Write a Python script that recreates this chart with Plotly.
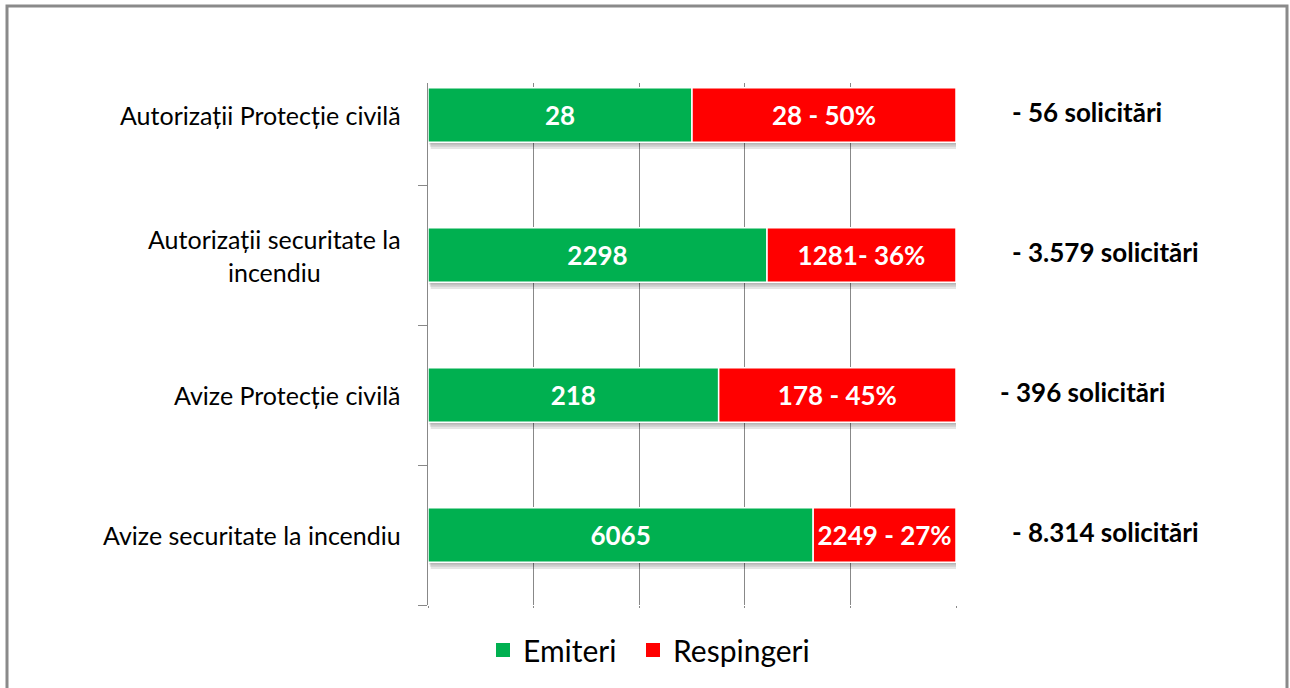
import plotly.graph_objects as go

categories = [
    "Autorizații Protecție civilă",
    "Autorizații securitate la<br>incendiu",
    "Avize Protecție civilă",
    "Avize securitate la incendiu",
]
emiteri = [28, 2298, 218, 6065]
respingeri = [28, 1281, 178, 2249]
red_labels = ["28 - 50%", "1281- 36%", "178 - 45%", "2249 - 27%"]
total_labels = ["- 56 solicitări", "- 3.579 solicitări", "- 396 solicitări", "- 8.314 solicitări"]
series_names = ["Emiteri", "Respingeri"]

totals = [e + r for e, r in zip(emiteri, respingeri)]
pct_e = [e / t * 100 for e, t in zip(emiteri, totals)]
pct_r = [r / t * 100 for r, t in zip(respingeri, totals)]

GREEN = "#00B050"
RED = "#FF0000"
GRID = "#888888"
FONT = "Lato"

W, H = 1290, 688
L, R, T, B = 428, 334, 83, 83
PW = W - L - R
PH = H - T - B
CAT_PX = 140.0
BAR_W = 0.39
ypos = list(range(len(categories)))

fig = go.Figure()

# soft shadow under bars
for k in (3, 2, 1):
    dy = 2.2 * k / CAT_PX
    dx = 0.9 * k * 100 / PW
    fig.add_trace(go.Bar(
        y=ypos, x=[p + q for p, q in zip(pct_e, pct_r)],
        base=[dx] * len(categories), orientation="h", width=BAR_W,
        offset=-BAR_W / 2 + dy,
        marker=dict(color="rgba(0,0,0,0.10)", line=dict(width=0)),
        showlegend=False, hoverinfo="skip",
    ))

fig.add_trace(go.Bar(
    y=ypos, x=pct_e, base=[0] * len(categories),
    orientation="h", name=series_names[0], width=BAR_W, showlegend=False,
    marker=dict(color=GREEN, line=dict(color="white", width=1.5)),
    text=[str(v) for v in emiteri], textposition="inside", insidetextanchor="middle",
    constraintext="none",
    textfont=dict(family=FONT, size=26, color="white", weight="bold"),
))
fig.add_trace(go.Bar(
    y=ypos, x=pct_r, base=pct_e,
    orientation="h", name=series_names[1], width=BAR_W, showlegend=False,
    marker=dict(color=RED, line=dict(color="white", width=1.5)),
    text=red_labels, textposition="inside", insidetextanchor="middle",
    constraintext="none",
    textfont=dict(family=FONT, size=26, color="white", weight="bold"),
))

# legend entries (square markers), one legend box each for exact spacing
for name, col, lg in zip(series_names, [GREEN, RED], ["legend", "legend2"]):
    fig.add_trace(go.Scatter(
        x=[None], y=[None], mode="markers", name=name, legend=lg,
        marker=dict(symbol="square", size=14, color=col, line=dict(width=0)),
    ))

annotations = []
for i, lab in enumerate(categories):
    annotations.append(dict(
        x=-25 / PW, xref="paper", y=i, yref="y", text=lab, showarrow=False,
        xanchor="right", yanchor="middle", align="center",
        font=dict(family=FONT, size=25, color="black"),
    ))
right_px = [1010, 1010, 998, 1010]
for i, lab in enumerate(total_labels):
    annotations.append(dict(
        x=(right_px[i] - L) / PW, xref="paper", y=i, yref="y", text=lab,
        showarrow=False, xanchor="left", yanchor="middle", yshift=3,
        font=dict(family=FONT, size=26, color="black", weight="bold"),
    ))

# outer frame
shapes = [dict(
    type="rect", xref="paper", yref="paper",
    x0=(7 - L) / PW, x1=(1287 - L) / PW,
    y0=(H - B - 720) / PH, y1=(H - B - 6) / PH,
    line=dict(color="#8a8a8a", width=3), fillcolor="rgba(0,0,0,0)", layer="below",
)]

legend_common = dict(
    orientation="h", xanchor="left",
    y=-(650 - (H - B)) / PH, yanchor="middle",
    font=dict(family=FONT, size=30, color="black"),
    itemwidth=30, bgcolor="rgba(0,0,0,0)",
)

fig.update_layout(
    width=W, height=H,
    margin=dict(l=L, r=R, t=T, b=B, pad=0),
    paper_bgcolor="white", plot_bgcolor="white",
    barmode="overlay",
    showlegend=True,
    legend=dict(x=(483 - L) / PW, **legend_common),
    legend2=dict(x=(633 - L) / PW, **legend_common),
    annotations=annotations,
    shapes=shapes,
    xaxis=dict(
        range=[0, 100], dtick=20, showgrid=True, gridcolor=GRID, gridwidth=1,
        showticklabels=False, zeroline=False, showline=False,
        ticks="outside", ticklen=2, tickcolor=GRID,
    ),
    yaxis=dict(
        type="linear",
        range=[len(categories) - 0.5, len(categories) - 0.5 - PH / CAT_PX],
        tickvals=[i + 0.5 for i in range(len(categories))],
        showticklabels=False, ticks="outside", ticklen=9, tickcolor=GRID,
        showgrid=False, zeroline=False, showline=True, linecolor=GRID, linewidth=1,
    ),
)

fig.write_html(
    "out.html",
    config={"displayModeBar": False},
    post_script="document.body.style.margin='0';document.body.style.overflow='hidden';",
)
